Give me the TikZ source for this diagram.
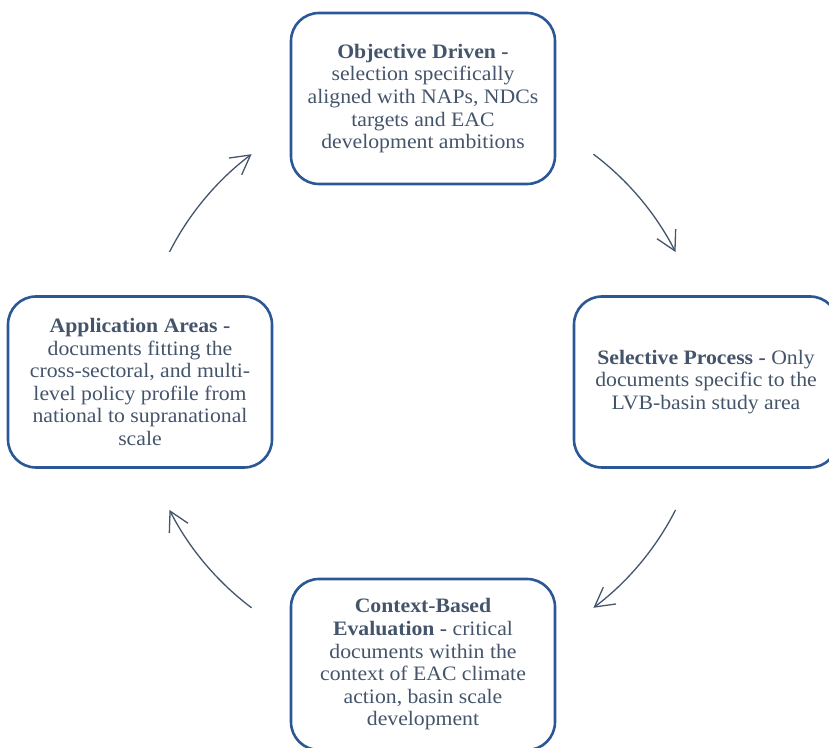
\documentclass[tikz,border=0pt]{standalone}
\usepackage{fontspec}
\setmainfont{Liberation Serif}[FakeStretch=1.06]
\usetikzlibrary{arrows.meta,calc}
\definecolor{boxblue}{HTML}{2B5797}
\definecolor{txtcol}{HTML}{44546A}
\begin{document}
\begin{tikzpicture}[x=1pt,y=1pt,
  stagebox/.style={draw=boxblue, line width=2.6pt, rounded corners=28pt,
    minimum width=264pt, minimum height=171pt, align=center, text=txtcol,
    font=\fontsize{20.5}{22.6}\selectfont, inner sep=0pt},
  cyclearrow/.style={draw=txtcol, line width=1.3pt,
    -{Straight Barb[length=19pt,width=21pt,line width=1.3pt]}}]
\useasboundingbox (0,0) rectangle (829,747);
\clip (0,0) rectangle (829,747);
\node[stagebox] (obj) at (423,648.5) {\textbf{Objective Driven -}\\selection specifically\\aligned with NAPs, NDCs\\targets and EAC\\development ambitions};
\node[stagebox] (sel) at (706,365) {\textbf{Selective Process -} Only\\documents specific to the\\LVB-basin study area};
\node[stagebox] (app) at (140,365) {\textbf{Application Areas -}\\documents fitting the\\cross-sectoral, and multi-\\level policy profile from\\national to supranational\\scale};
\node[stagebox] (ctx) at (423,82.5) {\textbf{Context-Based}\\\textbf{Evaluation -} critical\\documents within the\\context of EAC climate\\action, basin scale\\development};
\coordinate (c) at (422.5,366);
\path (c) ++(53:284) coordinate (a1s);
\path (c) ++(-27:284) coordinate (a2s);
\path (c) ++(-127:284) coordinate (a3s);
\path (c) ++(153:284) coordinate (a4s);
\draw[cyclearrow] (a1s) arc[start angle=53, end angle=27, radius=284];
\draw[cyclearrow] (a2s) arc[start angle=-27, end angle=-53, radius=284];
\draw[cyclearrow] (a3s) arc[start angle=-127, end angle=-153, radius=284];
\draw[cyclearrow] (a4s) arc[start angle=153, end angle=127, radius=284];
\end{tikzpicture}
\end{document}
